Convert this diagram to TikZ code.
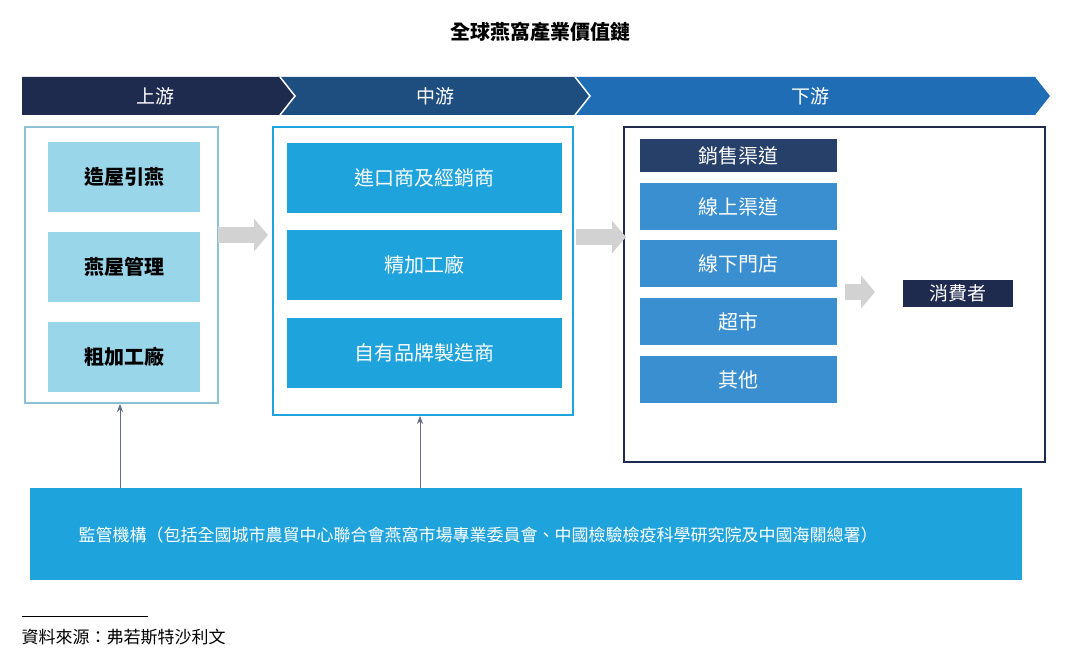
\documentclass[tikz,border=0pt]{standalone}
\usepackage{fontspec}
\setmainfont{Noto Sans CJK TC}
\usetikzlibrary{arrows.meta}
\definecolor{navy}{HTML}{1F2A4F}
\definecolor{mid}{HTML}{1E4D80}
\definecolor{lite}{HTML}{1F6DB5}
\definecolor{pale}{HTML}{9AD6EA}
\definecolor{cyan}{HTML}{1FA3DC}
\definecolor{chan}{HTML}{3A8FD0}
\definecolor{chanh}{HTML}{26406A}
\tikzset{
 pbox/.style={fill=pale,minimum width=152pt,minimum height=70pt,font=\fontsize{20}{20}\selectfont\bfseries},
 mbox/.style={fill=cyan,minimum width=275pt,minimum height=70pt,text=white,font=\fontsize{20}{20}\selectfont},
 dbox/.style={fill=chan,minimum width=197pt,minimum height=47pt,text=white,font=\fontsize{20}{20}\selectfont},
 garrow/.style={gray!35,line width=16pt,-{Triangle[length=14pt,width=32pt]}},
 uparrow/.style={draw=navy!70,line width=0.7pt,-{Stealth[length=8pt,width=6pt]}},
 chev/.style={font=\fontsize{19}{19}\selectfont\itshape,text=white}
}
\begin{document}
\begin{tikzpicture}[x=1pt,y=-1pt]
\useasboundingbox (0,0) rectangle (1080,655);
\node (title) at (540,32) {\fontsize{20}{20}\selectfont\bfseries 全球燕窩產業價值鏈};
\fill[lite] (575,77) -- (1035,77) -- (1050,96) -- (1035,115) -- (575,115) -- (590,96) -- cycle;
\fill[mid] (280,77) -- (575,77) -- (590,96) -- (575,115) -- (280,115) -- (295,96) -- cycle;
\fill[navy] (22,77) -- (280,77) -- (295,96) -- (280,115) -- (22,115) -- cycle;
\draw[white,line width=1.5pt] (280,77) -- (295,96) -- (280,115);
\draw[white,line width=1.5pt] (575,77) -- (590,96) -- (575,115);
\node[chev] (c1) at (155,96) {上游};
\node[chev] (c2) at (435,96) {中游};
\node[chev] (c3) at (810,96) {下游};
\draw[pale!90!black,line width=2pt] (25,127) rectangle (218,403);
\node[pbox] (u1) at (124,177) {造屋引燕};
\node[pbox] (u2) at (124,267) {燕屋管理};
\node[pbox] (u3) at (124,357) {粗加工廠};
\draw[cyan,line width=2pt] (273,127) rectangle (573,415);
\node[mbox] (m1) at (424.5,178) {進口商及經銷商};
\node[mbox] (m2) at (424.5,265) {精加工廠};
\node[mbox] (m3) at (424.5,353) {自有品牌製造商};
\draw[navy,line width=2pt] (624,127) rectangle (1045,462);
\node[dbox,fill=chanh,minimum height=33pt] (d0) at (738.5,155.5) {銷售渠道};
\node[dbox] (d1) at (738.5,206.5) {線上渠道};
\node[dbox] (d2) at (738.5,263.5) {線下門店};
\node[dbox] (d3) at (738.5,321.5) {超市};
\node[dbox] (d4) at (738.5,379.5) {其他};
\node[fill=navy,text=white,minimum width=110pt,minimum height=27pt,font=\fontsize{19}{19}\selectfont] (cons) at (958,293.5) {消費者};
\coordinate (a1s) at (218,235); \coordinate (a1e) at (268,235);
\coordinate (a2s) at (576,237); \coordinate (a2e) at (626,237);
\coordinate (a3s) at (845,292); \coordinate (a3e) at (875,292);
\draw[garrow] (a1s) -- (a1e);
\draw[garrow] (a2s) -- (a2e);
\draw[garrow] (a3s) -- (a3e);
\node[fill=cyan,minimum width=992pt,minimum height=92pt] (reg) at (526,534) {};
\node[anchor=west,text=white,font=\fontsize{17}{17}\selectfont] (regt) at (75,535) {監管機構（包括全國城市農貿中心聯合會燕窩市場專業委員會、中國檢驗檢疫科學研究院及中國海關總署）};
\coordinate (b1) at (120,404); \coordinate (b2) at (420,416);
\draw[uparrow] (120,488) -- (b1);
\draw[uparrow] (420,488) -- (b2);
\draw[black,line width=0.6pt] (22,616) -- (148,616);
\node[anchor=west,font=\fontsize{17}{17}\selectfont\itshape] (src) at (18,637) {資料來源：弗若斯特沙利文};
\end{tikzpicture}
\end{document}
